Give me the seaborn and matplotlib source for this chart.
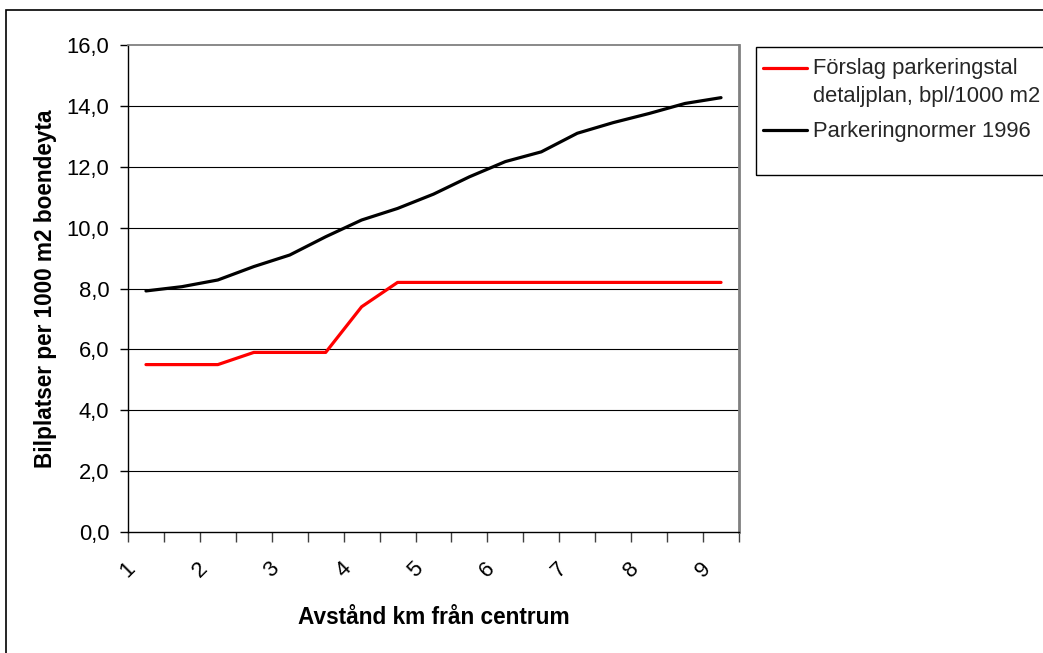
import matplotlib
matplotlib.use("Agg")
import matplotlib.pyplot as plt
from matplotlib.patches import Rectangle
from matplotlib.ticker import FixedLocator, FixedFormatter
from matplotlib.legend_handler import HandlerLine2D
from matplotlib.transforms import Affine2D
import pandas as pd
import seaborn as sns

# Distance from the city centre (km), one category every half kilometre
distance_km = [1, 1.5, 2, 2.5, 3, 3.5, 4, 4.5, 5, 5.5, 6, 6.5, 7, 7.5, 8, 8.5, 9]

# Proposed parking ratio in the detailed plan (spaces per 1000 m2)
proposal = [5.5, 5.5, 5.5, 5.9, 5.9, 5.9, 7.4, 8.2, 8.2, 8.2, 8.2, 8.2, 8.2, 8.2, 8.2, 8.2, 8.2]

# Parking standard from 1996
norm_1996 = [7.92, 8.06, 8.28, 8.72, 9.10, 9.70, 10.25, 10.63, 11.10, 11.67,
             12.17, 12.49, 13.10, 13.45, 13.75, 14.08, 14.27]

series_names = ["Förslag parkeringstal\ndetaljplan, bpl/1000 m2", "Parkeringnormer 1996"]
series_colors = ["#ff0000", "#000000"]

y_ticks = [0, 2, 4, 6, 8, 10, 12, 14, 16]
y_tick_labels = ["0,0", "2,0", "4,0", "6,0", "8,0", "10,0", "12,0", "14,0", "16,0"]
x_tick_labels = ["1", "2", "3", "4", "5", "6", "7", "8", "9"]

df = pd.DataFrame({
    "Avstånd": distance_km * 2,
    "Värde": proposal + norm_1996,
    "Serie": [series_names[0]] * len(proposal) + [series_names[1]] * len(norm_1996),
})

sns.set_theme(style="white")
plt.rcParams["font.family"] = ["Liberation Sans", "DejaVu Sans"]

TICK_FS = 15.8
LABEL_FS = 16.3

W, H = 1043, 653
fig = plt.figure(figsize=(W / 100, H / 100), dpi=100)
ax = fig.add_axes([128 / W, 1 - 532 / H, (739 - 128) / W, (532 - 45) / H])

sns.lineplot(data=df, x="Avstånd", y="Värde", hue="Serie", palette=series_colors,
             hue_order=series_names, linewidth=2.3, ax=ax, legend=False)

ax.set_xlim(0.75, 9.25)
ax.set_ylim(0, 16)

# y axis
ax.yaxis.set_major_locator(FixedLocator(y_ticks))
ax.yaxis.set_major_formatter(FixedFormatter(y_tick_labels))
ax.tick_params(axis="y", which="major", direction="out", length=6, width=1,
               color="#000000", pad=7.5, labelsize=TICK_FS, labelcolor="#000000", left=True)

# x axis: tick marks on the category boundaries, a label on every second one
boundaries = [d - 0.25 for d in distance_km] + [distance_km[-1] + 0.25]
ax.xaxis.set_major_locator(FixedLocator(boundaries[0::2]))
ax.xaxis.set_major_formatter(FixedFormatter(x_tick_labels))
ax.xaxis.set_minor_locator(FixedLocator(boundaries[1::2]))
ax.tick_params(axis="x", which="both", direction="out", length=7, width=1,
               color="#404040", bottom=True)
ax.tick_params(axis="x", which="major", pad=12, labelsize=TICK_FS, labelcolor="#000000")
for lbl in ax.get_xticklabels():
    lbl.set_rotation(45)
    lbl.set_ha("center")
    lbl.set_va("top")

# horizontal gridlines
ax.grid(False)
for yv in y_ticks[1:-1]:
    ax.axhline(yv, color="#000000", linewidth=0.8, zorder=0.5)

for side in ["left", "bottom"]:
    ax.spines[side].set_color("#000000")
    ax.spines[side].set_linewidth(1.0)
ax.spines["top"].set_color("#808080")
ax.spines["top"].set_linewidth(1.3)
ax.spines["right"].set_color("#808080")
ax.spines["right"].set_linewidth(2.0)

ax.set_xlabel("Avstånd km från centrum", fontsize=LABEL_FS, fontweight="bold",
              color="#000000", labelpad=17.5)
ax.set_ylabel("Bilplatser per 1000 m2 boendeyta", fontsize=LABEL_FS, fontweight="bold",
              color="#000000", labelpad=6.5)


class FirstLineHandler(HandlerLine2D):
    """Legend line aligned with the first row of a multi-line label."""

    def __init__(self, dy=0, **kw):
        super().__init__(**kw)
        self.dy = dy

    def create_artists(self, legend, orig_handle, xdescent, ydescent,
                       width, height, fontsize, trans):
        arts = super().create_artists(legend, orig_handle, xdescent, ydescent,
                                      width, height, fontsize, trans)
        for a in arts:
            a.set_transform(a.get_transform() + Affine2D().translate(0, self.dy))
        return arts


# legend with a square frame drawn separately
handles = [plt.Line2D([], [], color=c, linewidth=2.3) for c in series_colors]
leg = fig.legend(handles, series_names, loc="upper left",
                 bbox_to_anchor=(763 / W, 1 - 58 / H), frameon=False, fontsize=TICK_FS,
                 handlelength=2.0, handletextpad=0.28, labelspacing=0.65,
                 borderaxespad=0, borderpad=0,
                 handler_map={handles[0]: FirstLineHandler(dy=14.5)})
for t in leg.get_texts():
    t.set_linespacing(1.45)
fig.patches.append(Rectangle((756 / W, 1 - 175 / H), (1060 - 756) / W, (175 - 47) / H,
                             transform=fig.transFigure, fill=False,
                             edgecolor="#000000", linewidth=1.0))

# chart area border
fig.patches.append(Rectangle((6 / W, -0.05), 1.1, 1.05 - 10 / H,
                             transform=fig.transFigure, fill=False,
                             edgecolor="#000000", linewidth=1.2))

fig.savefig("out.png", dpi=100)
